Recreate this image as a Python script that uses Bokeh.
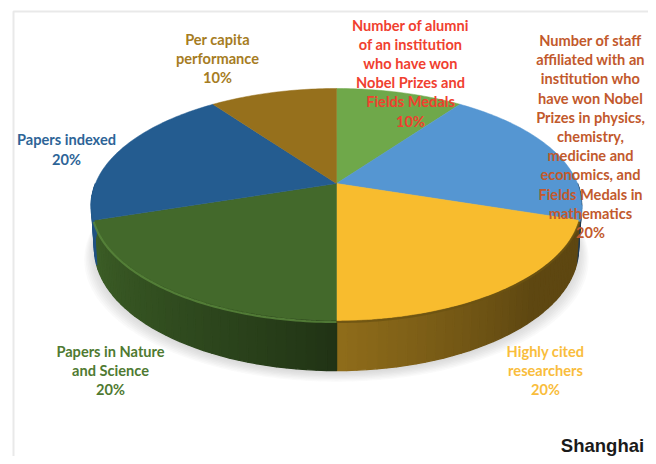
import math
from bokeh.plotting import figure
from bokeh.models import Range1d
from bokeh.core.properties import value
from bokeh.embed import file_html
from bokeh.resources import INLINE

# ---- data (clockwise from 12 o'clock) ----
categories = ["Alumni", "Staff", "Highly cited", "Nature and Science", "Papers indexed", "Per capita"]
shares = [10, 20, 20, 20, 20, 10]
top_colors = ["#6fa84a", "#5596d2", "#f8bc2e", "#43692b", "#245c90", "#96701c"]

label_lines = [
    ["Number of alumni", "of an institution", "who have won", "Nobel Prizes and", "Fields Medals", "10%"],
    ["Number of staff", "affiliated with an", "institution who", "have won Nobel", "Prizes in physics,",
     "chemistry,", "medicine and", "economics, and", "Fields Medals in", "mathematics", "20%"],
    ["Highly cited", "researchers", "20%"],
    ["Papers in Nature", "and Science", "20%"],
    ["Papers indexed", "20%"],
    ["Per capita", "performance", "10%"],
]
label_colors = ["#f0402f", "#c2592c", "#f9bd3c", "#4f7a31", "#2d6497", "#a67c22"]
label_cx = [410, 590, 545, 110, 66, 217]
label_y0 = [25, 40, 351, 351, 139, 39]
label_dy = [19.1, 19.2, 19, 19, 20, 19]

# ---- geometry: the disc in perspective ----
CX = 336
K = 0.181
TOP = dict(y0=183, a=241, b=112.2)
BOT = dict(y0=226, a=238, b=118)


def rim(theta_deg, d):
    t = math.radians(theta_deg)
    sx, cy = math.sin(t), math.cos(t)
    w = 1 + K * cy
    return CX + d["a"] * sx / w, d["y0"] - d["b"] * cy / w


def arc(a0, a1, d, step=1.0):
    n = max(2, int(abs(a1 - a0) / step) + 1)
    pts = [rim(a0 + (a1 - a0) * i / (n - 1), d) for i in range(n)]
    return [p[0] for p in pts], [p[1] for p in pts]


def scale(hex_color, f):
    r, g, b = [int(hex_color[i:i + 2], 16) for i in (1, 3, 5)]
    return "#%02x%02x%02x" % (int(r * f), int(g * f), int(b * f))


def side_factor(th):
    if th <= 180:
        return 0.38 + 0.20 * max(0.0, (th - 135) / 45)
    return 0.48 + 0.42 * min(1.0, ((th - 180) / 70) ** 0.8)


p = figure(width=648, height=456, output_backend="svg", toolbar_location=None,
           x_range=Range1d(0, 648), y_range=Range1d(456, 0), min_border=0,
           background_fill_color="white", border_fill_color="white", outline_line_color=None)
p.axis.visible = False
p.grid.visible = False

# panel frame
p.line([13, 13, 648], [456, 11, 11], line_color="#e9e9e9", line_width=2)

# soft shadow under the disc
bx, by = arc(0, 360, BOT)
for i in range(8):
    grow = 1 + i * 0.006
    p.patch([CX + (x - CX) * grow for x in bx], [y + 2 + i * 1.3 for y in by],
            fill_color="#808080", fill_alpha=0.045, line_color=None)

# side wall, slice by slice
starts, acc = [], 0
for s in shares:
    starts.append(acc * 3.6)
    acc += s
sxs, sys, scol = [], [], []
for st, sh, col in zip(starts, shares, top_colors):
    a0, a1 = st, st + sh * 3.6
    th = a0
    while th < a1 - 1e-6:
        nxt = min(th + 2.0, a1)
        if nxt > 90 and th < 270:
            tx0, ty0 = rim(th, TOP)
            tx1, ty1 = rim(nxt, TOP)
            bx0, by0 = rim(th, BOT)
            bx1, by1 = rim(nxt, BOT)
            sxs.append([tx0, tx1, bx1, bx0])
            sys.append([ty0, ty1, by1, by0])
            scol.append(scale(col, side_factor((th + nxt) / 2)))
        th = nxt
p.patches(sxs, sys, fill_color=scol, line_color=scol, line_width=1.4)

# top surface
for st, sh, col in zip(starts, shares, top_colors):
    ax, ay = arc(st, st + sh * 3.6, TOP)
    p.patch([CX] + ax, [TOP["y0"]] + ay, fill_color=col, line_color=col, line_width=0.5)

# bevel just below the front rim
for st, sh, col in zip(starts, shares, top_colors):
    a0, a1 = max(st, 100), min(st + sh * 3.6, 265)
    if a1 > a0:
        ax, ay = arc(a0, a1, TOP)
        edge = "#5b8a3d" if col == "#43692b" else ("#6b5212" if col == "#f8bc2e" else col)
        p.line(ax, [y + 1.5 for y in ay], line_color=edge, line_width=2.2, line_alpha=0.8)

# labels, one text per line
for lines, col, cx, y0, dy in zip(label_lines, label_colors, label_cx, label_y0, label_dy):
    p.text([cx] * len(lines), [y0 + i * dy for i in range(len(lines))], text=lines,
           text_font=value("Lato"), text_font_style="bold", text_font_size="14.6px",
           text_color=col, text_align="center", text_baseline="middle")

p.text([602], [445], text=["Shanghai"], text_font=value("Liberation Sans"), text_font_style="bold",
       text_font_size="18.5px", text_color="#1a1a1a", text_align="center", text_baseline="middle")

open("out.html", "w").write(file_html(p, INLINE))
